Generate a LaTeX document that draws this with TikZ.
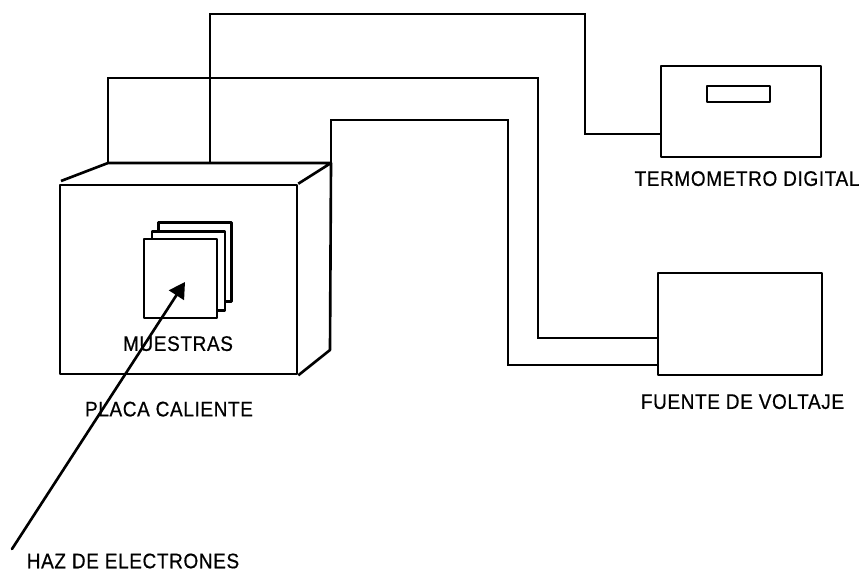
\documentclass[tikz,border=0pt]{standalone}
\usepackage{fontspec}
\setmainfont{Liberation Sans}
\newfontfamily\labelfont[LetterSpace=3, FakeStretch=0.9, FakeBold=0.6]{Liberation Sans}
\usetikzlibrary{arrows.meta, positioning}
\tikzset{
  caja/.style={
    rectangle, draw=black, fill=white,
    inner sep=0pt, line width=1.5pt, line join=round,
  },
  muestra/.style={caja, minimum width=1.46cm, minimum height=1.58cm},
  wire/.style={line width=1.4pt, line join=miter},
  flecha/.style={-{Triangle[length=9pt, width=10pt]}, line width=1.5pt, line cap=round},
  rotulo/.style={font=\labelfont\fontsize{12}{14}\selectfont, inner sep=0pt, text=black},
}

\begin{document}
\begin{tikzpicture}[x=0.02cm, y=-0.02cm]

  \useasboundingbox (0,0) rectangle (865,571);

  % Placa caliente
  \node[caja, minimum width=4.74cm, minimum height=3.78cm] (placa) at (178.5,279.5) {};
  \coordinate (tapaizq) at (61,181);
  \coordinate (tapa1) at (108,163);
  \coordinate (tapa2) at (210,163);
  \coordinate (tapa3) at (331,163);
  \draw[caja, fill=none] (tapaizq) -- (tapa1) -- (tapa3) -- (placa.north east);
  \draw[caja, fill=none] (tapa3) -- (330,350) -- (placa.south east);

  % Muestras
  \node[muestra] (muestra3) at (195,262) {};
  \node[muestra] (muestra2) at (188.5,271) {};
  \node[muestra] (muestra1) at (180.5,278.5) {};

  % Instrumentos
  \node[caja, minimum width=3.2cm, minimum height=1.82cm] (termo) at (741,111.5) {};
  \node[caja, minimum width=1.26cm, minimum height=0.32cm] (display) at (738.5,94) {};
  \node[caja, minimum width=3.28cm, minimum height=2.04cm] (fuente) at (740,324) {};

  \coordinate (termoin) at (termo.west |- 0,134);
  \coordinate (fuentea) at (fuente.west |- 0,338);
  \coordinate (fuenteb) at (fuente.west |- 0,365);

  % Cables
  \draw[wire] (tapa2) |- (585,14) |- (termoin);
  \draw[wire] (tapa1) |- (538,78) |- (fuentea);
  \draw[wire] (tapa3) |- (508,120) |- (fuenteb);

  % Rotulos
  \node[rotulo, below=0.25cm of termo, xshift=0.12cm] {TERMOMETRO DIGITAL};
  \node[rotulo, below=0.35cm of fuente, xshift=0.05cm] {FUENTE DE VOLTAJE};
  \node[rotulo, below=0.33cm of muestra1, xshift=-0.05cm] {MUESTRAS};
  \node[rotulo, below=0.52cm of placa, xshift=-0.19cm] {PLACA CALIENTE};
  \node[rotulo] (haz) at (133,561) {HAZ DE ELECTRONES};

  % Haz
  \coordinate (hazini) at (12,549);
  \coordinate (punta) at (185,282);
  \draw[flecha] (hazini) -- (punta);

\end{tikzpicture}
\end{document}
